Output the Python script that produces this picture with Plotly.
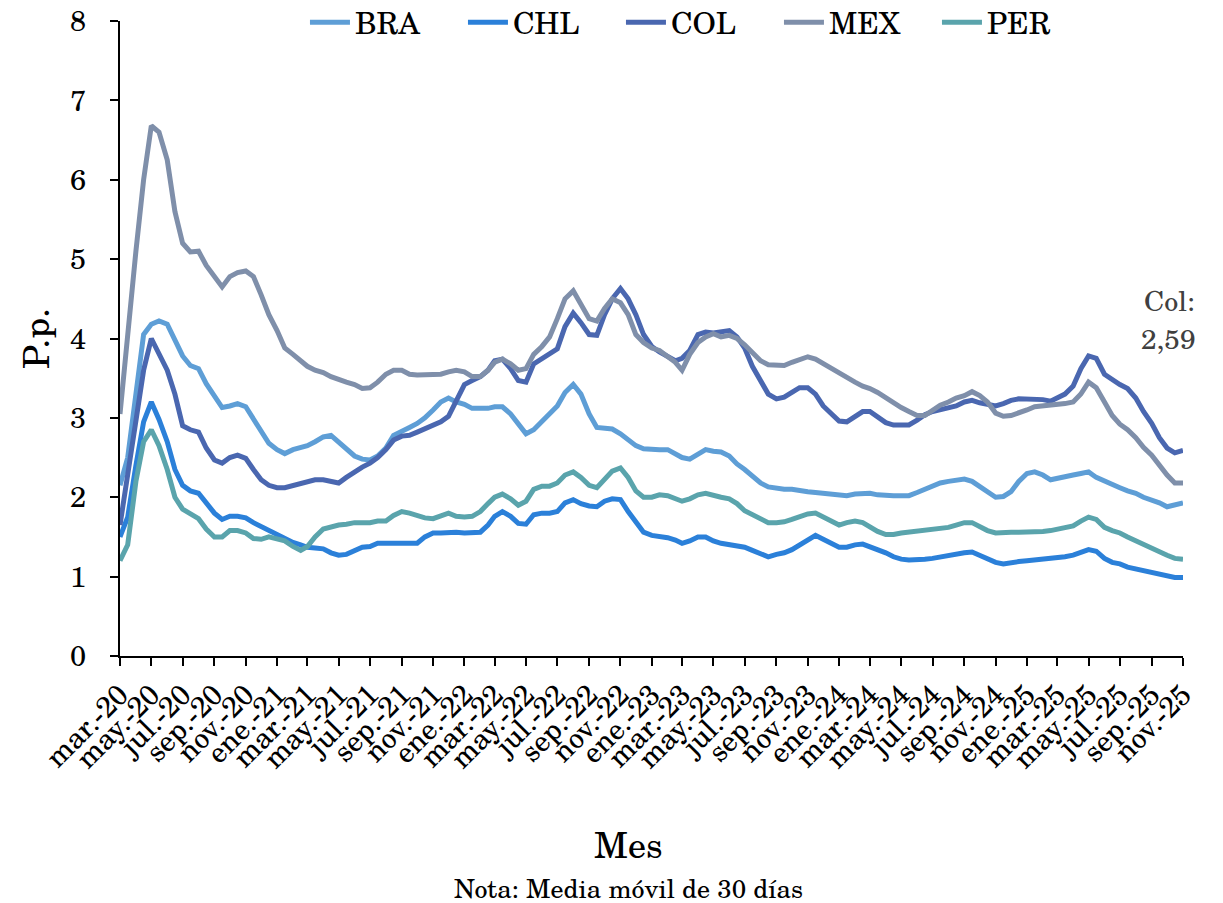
import pandas as pd
import plotly.graph_objects as go

# Semi-monthly observation dates (1st and 16th of each month), mar-2020 .. nov-2025
month_starts = pd.date_range("2020-03-01", "2025-11-01", freq="MS")
dates = []
for i, d in enumerate(month_starts):
    dates.append(d)
    if i < len(month_starts) - 1:
        dates.append(d + pd.Timedelta(days=15))

BRA = [2.15, 2.5, 3.3, 4.05, 4.18, 4.22, 4.18, 3.98, 3.78, 3.66,
       3.62, 3.43, 3.28, 3.13, 3.15, 3.18, 3.14, 2.98, 2.82, 2.68,
       2.6, 2.55, 2.6, 2.63, 2.65, 2.7, 2.76, 2.78, 2.7, 2.6,
       2.52, 2.48, 2.47, 2.52, 2.62, 2.78, 2.84, 2.88, 2.93, 3.0,
       3.1, 3.2, 3.25, 3.2, 3.17, 3.12, 3.12, 3.12, 3.14, 3.14,
       3.05, 2.92, 2.8, 2.85, 2.95, 3.05, 3.15, 3.32, 3.42, 3.3,
       3.05, 2.88, 2.87, 2.86, 2.8, 2.72, 2.65, 2.61, 2.6, 2.6,
       2.6, 2.55, 2.5, 2.48, 2.55, 2.6, 2.58, 2.57, 2.52, 2.42,
       2.35, 2.27, 2.18, 2.13, 2.11, 2.1, 2.1, 2.08, 2.07, 2.06,
       2.05, 2.04, 2.03, 2.02, 2.04, 2.04, 2.05, 2.03, 2.02, 2.02,
       2.02, 2.02, 2.06, 2.1, 2.15, 2.18, 2.2, 2.22, 2.23, 2.2,
       2.14, 2.08, 2.0, 2.01, 2.07, 2.2, 2.3, 2.32, 2.28, 2.22,
       2.24, 2.27, 2.28, 2.3, 2.32, 2.25, 2.2, 2.16, 2.12, 2.08,
       2.05, 2.0, 1.97, 1.93, 1.88, 1.9, 1.93]

CHL = [1.5, 1.75, 2.4, 2.95, 3.2, 2.98, 2.7, 2.35, 2.15, 2.08,
       2.05, 1.92, 1.8, 1.72, 1.76, 1.76, 1.74, 1.68, 1.63, 1.58,
       1.53, 1.47, 1.43, 1.4, 1.37, 1.36, 1.35, 1.3, 1.27, 1.28,
       1.33, 1.37, 1.38, 1.42, 1.42, 1.42, 1.42, 1.41, 1.42, 1.5,
       1.55, 1.55, 1.56, 1.56, 1.55, 1.55, 1.56, 1.65, 1.76, 1.82,
       1.76, 1.67, 1.66, 1.78, 1.8, 1.8, 1.82, 1.93, 1.97, 1.92,
       1.89, 1.88, 1.95, 1.98, 1.97, 1.82, 1.68, 1.56, 1.52, 1.51,
       1.49, 1.46, 1.42, 1.45, 1.5, 1.5, 1.45, 1.42, 1.4, 1.38,
       1.37, 1.33, 1.28, 1.25, 1.28, 1.3, 1.34, 1.4, 1.45, 1.52,
       1.47, 1.42, 1.37, 1.37, 1.4, 1.41, 1.38, 1.35, 1.3, 1.25,
       1.22, 1.21, 1.21, 1.22, 1.23, 1.25, 1.27, 1.29, 1.3, 1.31,
       1.27, 1.22, 1.18, 1.16, 1.18, 1.19, 1.2, 1.21, 1.21, 1.22,
       1.24, 1.25, 1.27, 1.3, 1.34, 1.32, 1.23, 1.18, 1.16, 1.12,
       1.1, 1.08, 1.05, 1.04, 1.02, 0.99, 0.99]

COL = [1.65, 2.3, 3.0, 3.6, 4.0, 3.82, 3.6, 3.3, 2.9, 2.85,
       2.82, 2.62, 2.47, 2.43, 2.5, 2.53, 2.49, 2.35, 2.22, 2.15,
       2.12, 2.12, 2.15, 2.18, 2.2, 2.22, 2.22, 2.2, 2.18, 2.25,
       2.32, 2.38, 2.43, 2.5, 2.6, 2.72, 2.77, 2.78, 2.82, 2.86,
       2.9, 2.95, 3.02, 3.2, 3.42, 3.47, 3.52, 3.6, 3.72, 3.74,
       3.62, 3.47, 3.45, 3.68, 3.75, 3.8, 3.87, 4.15, 4.32, 4.2,
       4.05, 4.04, 4.3, 4.5, 4.63, 4.5, 4.3, 4.05, 3.9, 3.83,
       3.77, 3.72, 3.75, 3.85, 4.05, 4.08, 4.07, 4.08, 4.1, 4.02,
       3.88, 3.65, 3.48, 3.3, 3.24, 3.26, 3.32, 3.38, 3.38, 3.3,
       3.15, 3.05, 2.96, 2.95, 3.02, 3.08, 3.08, 3.02, 2.94, 2.91,
       2.91, 2.91, 2.97, 3.04, 3.08, 3.1, 3.12, 3.15, 3.2, 3.22,
       3.19, 3.17, 3.15, 3.18, 3.22, 3.24, 3.24, 3.24, 3.23, 3.21,
       3.25, 3.3, 3.4, 3.62, 3.78, 3.75, 3.55, 3.48, 3.42, 3.37,
       3.25, 3.08, 2.93, 2.75, 2.62, 2.56, 2.59]

MEX = [3.05, 4.1, 5.1, 6.0, 6.68, 6.6, 6.25, 5.6, 5.2, 5.09,
       5.1, 4.92, 4.78, 4.65, 4.78, 4.83, 4.85, 4.78, 4.55, 4.3,
       4.1, 3.88, 3.8, 3.72, 3.65, 3.6, 3.57, 3.52, 3.48, 3.45,
       3.42, 3.37, 3.38, 3.45, 3.55, 3.6, 3.6, 3.55, 3.54, 3.54,
       3.55, 3.55, 3.58, 3.6, 3.58, 3.52, 3.52, 3.6, 3.7, 3.74,
       3.68, 3.6, 3.62, 3.8, 3.9, 4.02, 4.25, 4.5, 4.6, 4.42,
       4.25, 4.22, 4.38, 4.5, 4.45, 4.3, 4.05, 3.95, 3.88, 3.85,
       3.78, 3.7, 3.6, 3.8, 3.95, 4.02, 4.06, 4.02, 4.04, 4.0,
       3.92, 3.82, 3.72, 3.67, 3.67, 3.66, 3.7, 3.73, 3.77, 3.74,
       3.68, 3.62, 3.56, 3.5, 3.45, 3.4, 3.37, 3.32, 3.25, 3.2,
       3.13, 3.08, 3.03, 3.03, 3.1, 3.16, 3.2, 3.25, 3.28, 3.33,
       3.28, 3.2, 3.06, 3.02, 3.03, 3.06, 3.1, 3.14, 3.15, 3.15,
       3.17, 3.18, 3.2, 3.3, 3.45, 3.38, 3.2, 3.03, 2.92, 2.85,
       2.75, 2.63, 2.53, 2.4, 2.28, 2.18, 2.18]

PER = [1.2, 1.4, 2.2, 2.7, 2.85, 2.65, 2.35, 2.0, 1.85, 1.8,
       1.73, 1.6, 1.5, 1.5, 1.58, 1.58, 1.55, 1.48, 1.47, 1.5,
       1.47, 1.45, 1.38, 1.33, 1.38, 1.5, 1.6, 1.63, 1.65, 1.66,
       1.68, 1.68, 1.68, 1.7, 1.7, 1.77, 1.82, 1.8, 1.77, 1.74,
       1.73, 1.76, 1.8, 1.76, 1.75, 1.76, 1.82, 1.92, 2.0, 2.04,
       1.98, 1.9, 1.95, 2.1, 2.14, 2.14, 2.18, 2.28, 2.32, 2.25,
       2.15, 2.12, 2.22, 2.33, 2.37, 2.25, 2.08, 2.0, 2.0, 2.03,
       2.02, 1.98, 1.95, 1.98, 2.03, 2.05, 2.02, 2.0, 1.98, 1.92,
       1.83, 1.78, 1.72, 1.68, 1.68, 1.69, 1.72, 1.75, 1.79, 1.8,
       1.75, 1.7, 1.65, 1.68, 1.7, 1.68, 1.62, 1.57, 1.53, 1.53,
       1.55, 1.56, 1.57, 1.58, 1.59, 1.6, 1.62, 1.65, 1.68, 1.68,
       1.63, 1.58, 1.55, 1.56, 1.56, 1.56, 1.56, 1.56, 1.57, 1.58,
       1.6, 1.62, 1.64, 1.7, 1.75, 1.72, 1.62, 1.58, 1.55, 1.5,
       1.45, 1.4, 1.35, 1.32, 1.27, 1.23, 1.22]

series_names = ["BRA", "CHL", "COL", "MEX", "PER"]
series_values = [BRA, CHL, COL, MEX, PER]
series_colors = ["#5E9ED6", "#2B80D9", "#4A67B0", "#7F8FAA", "#5AA4AC"]

tick_dates = pd.date_range("2020-03-01", "2025-11-01", freq="2MS")
tick_text = ["mar.-20", "may.-20", "jul.-20", "sep.-20", "nov.-20",
             "ene.-21", "mar.-21", "may.-21", "jul.-21", "sep.-21", "nov.-21",
             "ene.-22", "mar.-22", "may.-22", "jul.-22", "sep.-22", "nov.-22",
             "ene.-23", "mar.-23", "may.-23", "jul.-23", "sep.-23", "nov.-23",
             "ene.-24", "mar.-24", "may.-24", "jul.-24", "sep.-24", "nov.-24",
             "ene.-25", "mar.-25", "may.-25", "jul.-25", "sep.-25", "nov.-25"]

FONT = "'Century Schoolbook', 'TeX Gyre Schola', 'DejaVu Serif', serif"

fig = go.Figure()
for name, vals, col in zip(series_names, series_values, series_colors):
    fig.add_trace(go.Scatter(x=dates, y=vals, name=name, mode="lines",
                             line=dict(color=col, width=5)))

fig.update_layout(
    width=1223, height=903,
    margin=dict(l=112, r=48, t=13, b=255, autoexpand=False),
    paper_bgcolor="white", plot_bgcolor="white",
    font=dict(family=FONT, color="black", size=26),
    showlegend=True,
    legend=dict(orientation="h", x=0.174, xanchor="left", y=0.998, yanchor="middle",
                font=dict(size=30, family=FONT), entrywidth=103,
                bgcolor="rgba(0,0,0,0)", itemwidth=40),
    xaxis=dict(type="date", range=["2020-03-01", "2025-11-01"],
               tickvals=tick_dates, ticktext=tick_text, tickangle=-45,
               tickfont=dict(size=29, family=FONT), ticklabeloverflow="allow",
               ticks="outside", ticklen=8, tickwidth=2, tickcolor="black",
               showline=True, linecolor="black", linewidth=2,
               showgrid=False, zeroline=False, automargin=False),
    yaxis=dict(range=[0, 8], dtick=1, tickfont=dict(size=29, family=FONT),
               ticklabeloverflow="allow",
               ticks="outside", ticklen=8, tickwidth=2, tickcolor="black",
               showline=True, linecolor="black", linewidth=2, ticklabelstandoff=18,
               showgrid=False, zeroline=False, automargin=False,
               title=dict(text="P.p.", font=dict(size=36, family=FONT), standoff=22)),
    annotations=[
        dict(text="Mes", xref="paper", yref="paper", x=0.478, y=-0.296,
             xanchor="center", yanchor="middle", showarrow=False,
             font=dict(size=36, family=FONT, color="black")),
        dict(text="Col:", xref="paper", yref="paper", x=1.013, y=0.561,
             xanchor="right", yanchor="middle", align="right", showarrow=False,
             font=dict(size=28, family=FONT, color="#404040")),
        dict(text="2,59", xref="paper", yref="paper", x=1.014, y=0.501,
             xanchor="right", yanchor="middle", align="right", showarrow=False,
             font=dict(size=28, family=FONT, color="#404040")),
        dict(text="Nota: Media móvil de 30 días", xref="paper", yref="paper",
             x=0.478, y=-0.365, xanchor="center", yanchor="middle", showarrow=False,
             font=dict(size=26, family=FONT, color="black")),
    ],
)

fig.write_html("out.html")
